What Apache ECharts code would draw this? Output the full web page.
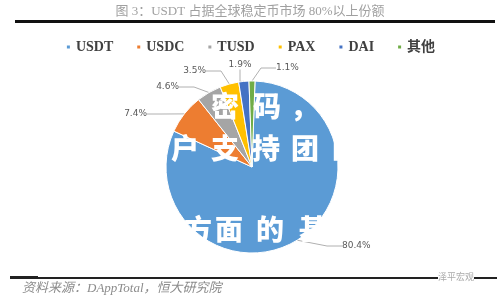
<!DOCTYPE html>
<html><head><meta charset="utf-8">
<script src="https://cdn.jsdelivr.net/npm/echarts@6/dist/echarts.min.js"></script>
<style>html,body{margin:0;padding:0;background:#fff}#c{width:500px;height:300px}</style>
</head><body><div id="c"></div>
<script>
const categories = ['USDT','USDC','TUSD','PAX','DAI','其他'];
const values = [80.4, 7.4, 4.6, 3.5, 1.9, 1.1];
const colors = ['#5B9BD5','#ED7D31','#A5A5A5','#FFC000','#4472C4','#70AD47'];
const titleText = '图 3：USDT 占据全球稳定币市场 80%以上份额';
const sourceText = '资料来源：DAppTotal，恒大研究院';
const overlayRows = [['密','码','，'],['户','支','持','团','的'],['方','面','的','基']];

// label placement (style only): [x, y, align]
const labelSpots = [[342,246,'left'],[147,114,'right'],[179,87,'right'],[206,71,'right'],[240,65,'center'],[276,68,'left']];
const overlayX = [[211,253,290],[171,211,252,291,332],[184,215,256,299]];
const overlayY = [92,134,215];

const graphics = [
  {type:'rect',shape:{x:15,y:20,width:480,height:3},style:{fill:'#111'}},
  {type:'rect',shape:{x:10,y:277,width:487,height:2},style:{fill:'#222'}},
  {type:'rect',shape:{x:10,y:276,width:28,height:1},style:{fill:'#222'}},
  {type:'text',left:22,top:282,style:{text:sourceText,fill:'#8c8c8c',font:'italic 13px "Liberation Serif","Noto Sans CJK SC",serif'}},
  {type:'text',left:438,top:272,z:120,style:{text:'泽平宏观',fill:'#aaa',backgroundColor:'#fff',font:'9px "Noto Sans CJK SC"'}}
];
overlayRows.forEach((row,r)=>row.forEach((ch,i)=>{
  graphics.push({type:'text',x:overlayX[r][i],y:overlayY[r],z:100,
    style:{text:ch,fill:'#ffffff',font:'900 28px "Noto Sans CJK SC"'}});
}));

const chart = echarts.init(document.getElementById('c'), null, {renderer:'canvas'});
chart.setOption({
  animation:false,
  title:{text:titleText,left:'center',top:0,textStyle:{fontSize:13,fontWeight:'normal',color:'#a0a0a0',fontFamily:'"Liberation Serif","Noto Sans CJK SC",serif'}},
  legend:{top:35,left:'center',itemWidth:5,itemHeight:5,itemGap:22,icon:'rect',
    textStyle:{fontSize:14,fontWeight:'bold',color:'#404040',fontFamily:'"Liberation Serif","Noto Sans CJK SC",serif'},
    data:categories},
  color:colors,
  series:[{
    type:'pie',center:[252,167],radius:86,startAngle:88,clockwise:true,
    avoidLabelOverlap:false,
    data:categories.map((n,i)=>({name:n,value:values[i]})),
    itemStyle:{borderColor:'#fff',borderWidth:1},
    label:{show:true,position:'outside',formatter:p=>p.value.toFixed(1)+'%',fontSize:9,color:'#595959',fontFamily:'"DejaVu Sans",sans-serif'},
    labelLine:{show:true,length:10,length2:15,lineStyle:{color:'#b0b0b0',width:1}},
    labelLayout:p=>{const s=labelSpots[p.dataIndex];return {x:s[0],y:s[1],align:s[2],verticalAlign:'middle'};}
  }],
  graphic:graphics
});
</script></body></html>
